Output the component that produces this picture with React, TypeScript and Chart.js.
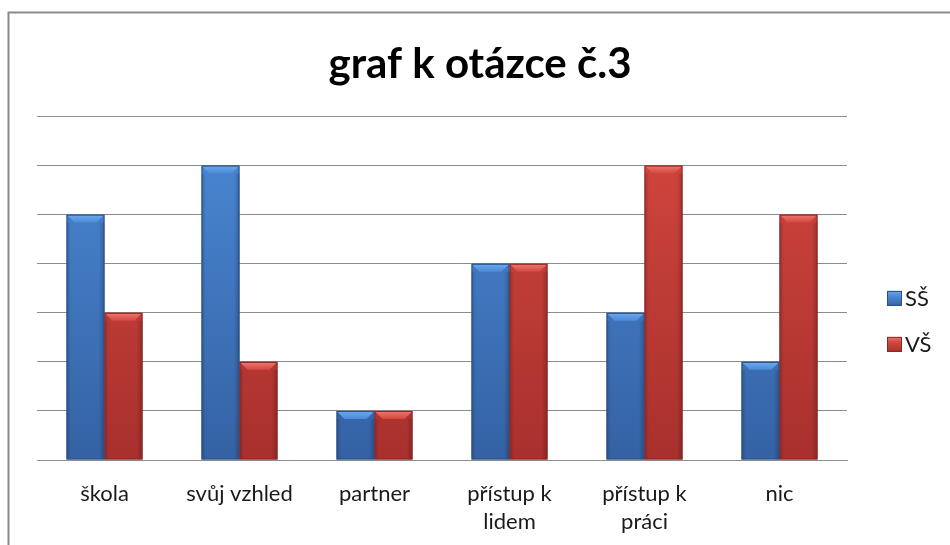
import React, { useEffect, useRef } from "react";
import { Chart, registerables } from "chart.js";

Chart.register(...registerables);

const chartTitle = "graf k otázce č.3";
const categories: (string | string[])[] = [
  "škola",
  "svůj vzhled",
  "partner",
  ["přístup k", "lidem"],
  ["přístup k", "práci"],
  "nic",
];
const seriesNames = ["SŠ", "VŠ"];
const ssValues = [5, 6, 1, 4, 3, 2];
const vsValues = [3, 2, 1, 4, 6, 5];
const yMin = 0;
const yMax = 7;
const yStep = 1;

const FONT = "Lato, 'Open Sans', sans-serif";

const palette = [
  { top: "#4b8ad6", bottom: "#3462a4", edge: "#2b4f86", bevel: "#6eaaf0", legend: "#3f77c0" },
  { top: "#d4473f", bottom: "#a8302d", edge: "#8a2724", bevel: "#ec7a72", legend: "#c03a36" },
];

const framePlugin = {
  id: "frame",
  beforeDraw(chart: any) {
    const { ctx, width, height } = chart;
    ctx.save();
    ctx.fillStyle = "#ffffff";
    ctx.fillRect(0, 0, width, height);
    ctx.strokeStyle = "#8a8a8a";
    ctx.lineWidth = 2;
    ctx.beginPath();
    ctx.moveTo(8.5, height);
    ctx.lineTo(8.5, 12.5);
    ctx.lineTo(width, 12.5);
    ctx.stroke();
    ctx.restore();
  },
};

const bevelPlugin = {
  id: "bevel",
  afterDatasetsDraw(chart: any) {
    const ctx = chart.ctx;
    ctx.save();
    chart.data.datasets.forEach((_ds: any, i: number) => {
      const meta = chart.getDatasetMeta(i);
      const pal = palette[i];
      meta.data.forEach((bar: any) => {
        const { x, y, base, width } = bar.getProps(["x", "y", "base", "width"], true);
        const l = x - width / 2;
        const r = x + width / 2;
        const h = Math.min(8, (base - y) / 2);
        const inset = 8;
        const g = ctx.createLinearGradient(0, y, 0, y + h);
        g.addColorStop(0, pal.bevel);
        g.addColorStop(1, pal.top);
        ctx.fillStyle = g;
        ctx.beginPath();
        ctx.moveTo(l + 1, y + 1);
        ctx.lineTo(r - 1, y + 1);
        ctx.lineTo(r - inset, y + h);
        ctx.lineTo(l + inset, y + h);
        ctx.closePath();
        ctx.fill();
        const sg = ctx.createLinearGradient(l, 0, r, 0);
        sg.addColorStop(0, "rgba(0,0,0,0.18)");
        sg.addColorStop(0.12, "rgba(0,0,0,0)");
        sg.addColorStop(0.85, "rgba(0,0,0,0)");
        sg.addColorStop(1, "rgba(0,0,0,0.22)");
        ctx.fillStyle = sg;
        ctx.fillRect(l, y + h, width, base - y - h);
        ctx.strokeStyle = pal.edge;
        ctx.lineWidth = 1;
        ctx.strokeRect(l + 0.5, y + 0.5, width - 1, base - y - 1);
      });
    });
    ctx.restore();
  },
};

const legendPlugin = {
  id: "customLegend",
  afterDraw(chart: any) {
    const ctx = chart.ctx;
    const area = chart.chartArea;
    ctx.save();
    ctx.font = `22px ${FONT}`;
    ctx.textBaseline = "middle";
    ctx.textAlign = "left";
    const startY = area.top + 182;
    const gap = 46;
    const size = 15;
    chart.data.datasets.forEach((ds: any, i: number) => {
      const cy = startY + i * gap;
      const bx = area.right + 40;
      const pal = palette[i];
      const g = ctx.createLinearGradient(0, cy - size / 2, 0, cy + size / 2);
      g.addColorStop(0, pal.bevel);
      g.addColorStop(0.35, pal.top);
      g.addColorStop(1, pal.bottom);
      ctx.fillStyle = g;
      ctx.fillRect(bx, cy - size / 2, size, size);
      ctx.strokeStyle = pal.edge;
      ctx.lineWidth = 1;
      ctx.strokeRect(bx + 0.5, cy - size / 2 + 0.5, size - 1, size - 1);
      ctx.fillStyle = "#1a1a1a";
      ctx.fillText(ds.label, bx + size + 3, cy + 1);
    });
    ctx.restore();
  },
};

function makeFill(i: number) {
  return (c: any) => {
    const chart = c.chart;
    const area = chart.chartArea;
    const pal = palette[i];
    if (!area) return pal.top;
    const g = chart.ctx.createLinearGradient(0, area.top, 0, area.bottom);
    g.addColorStop(0, pal.top);
    g.addColorStop(1, pal.bottom);
    return g;
  };
}

export default function App() {
  const ref = useRef<HTMLCanvasElement | null>(null);
  useEffect(() => {
    if (!ref.current) return;
    const chart = new Chart(ref.current, {
      type: "bar",
      data: {
        labels: categories as any,
        datasets: [
          {
            label: seriesNames[0],
            data: ssValues,
            backgroundColor: makeFill(0),
            borderWidth: 0,
            categoryPercentage: 0.563,
            barPercentage: 1,
          },
          {
            label: seriesNames[1],
            data: vsValues,
            backgroundColor: makeFill(1),
            borderWidth: 0,
            categoryPercentage: 0.563,
            barPercentage: 1,
          },
        ],
      },
      options: {
        responsive: false,
        animation: false,
        layout: { padding: { left: 10, right: 0, top: 12, bottom: 0 } },
        plugins: {
          legend: { display: false },
          tooltip: { enabled: false },
          title: {
            display: true,
            text: chartTitle,
            color: "#000000",
            font: { family: FONT, size: 42, weight: "bold", lineHeight: 1.2 },
            padding: { top: 27, bottom: 27 },
          },
        },
        scales: {
          x: {
            grid: { display: false, drawTicks: false },
            border: { display: true, color: "#8c8c8c", width: 1 },
            ticks: {
              color: "#1a1a1a",
              font: { family: FONT, size: 22, lineHeight: 1.27 },
              padding: 20,
              maxRotation: 0,
              autoSkip: false,
            },
            afterFit: (s: any) => {
              s.height = 85;
            },
          },
          y: {
            min: yMin,
            max: yMax,
            ticks: { display: false, stepSize: yStep },
            grid: { color: "#8c8c8c", lineWidth: 1, drawTicks: false },
            border: { display: false },
            afterFit: (s: any) => {
              s.width = 27;
            },
          },
          y2: {
            position: "right",
            display: true,
            ticks: { display: false },
            grid: { display: false, drawTicks: false },
            border: { display: false },
            afterFit: (s: any) => {
              s.width = 103;
            },
          },
        },
      } as any,
      plugins: [framePlugin, bevelPlugin, legendPlugin],
    });
    return () => chart.destroy();
  }, []);
  return (
    <div style={{ position: "fixed", left: 0, top: 0, width: 950, height: 545 }}>
      <canvas ref={ref} width={950} height={545} style={{ width: 950, height: 545, display: "block" }} />
    </div>
  );
}
